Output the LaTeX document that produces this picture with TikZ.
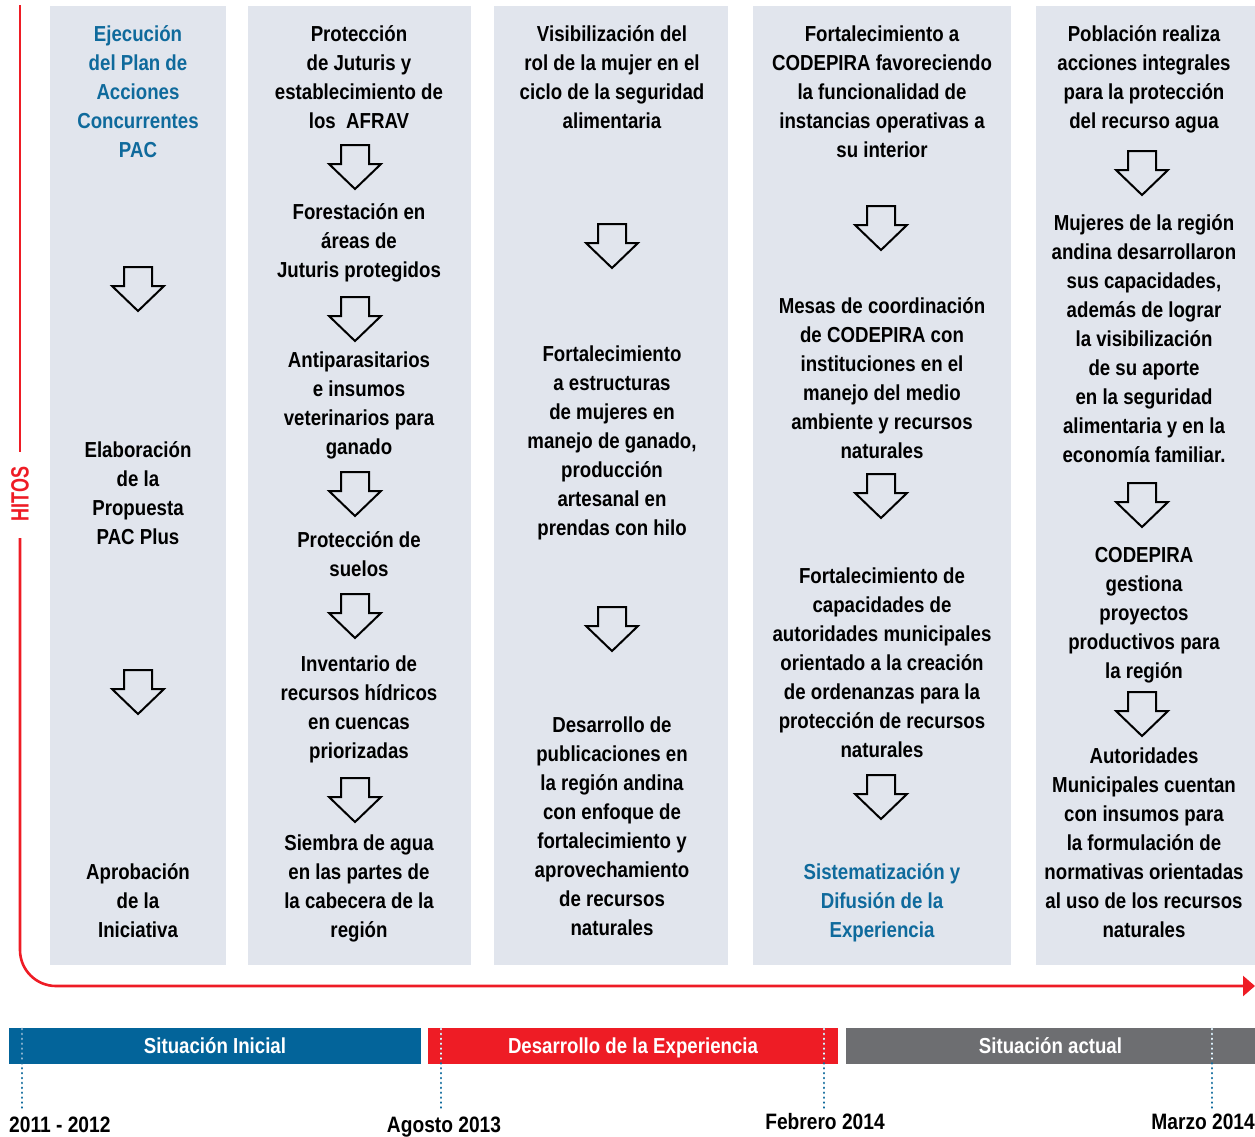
\documentclass[tikz,border=0pt]{standalone}
\usepackage{fontspec}
\setmainfont{Liberation Sans}[FakeStretch=0.86]
\newfontfamily\hitosfont{Liberation Sans}[FakeStretch=0.72]
\usetikzlibrary{arrows.meta}
\definecolor{colbg}{HTML}{E1E5ED}
\definecolor{ptblue}{HTML}{0F6A9C}
\definecolor{barblue}{HTML}{03649A}
\definecolor{barred}{HTML}{EE1C25}
\definecolor{bargray}{HTML}{6D6E71}
\definecolor{dotlight}{HTML}{8DB4D0}
\newcommand{\mystr}{\rule{0pt}{22pt}}
\tikzset{
  txt/.style={anchor=north, inner sep=0pt, align=center, text=black,
    font=\bfseries\fontsize{21.7}{29}\selectfont},
  bluetxt/.style={txt, text=ptblue},
  colbox/.style={fill=colbg, draw=none},
  tline/.style={draw=barred, line width=2.6pt},
  barbox/.style={draw=none, inner sep=0pt, minimum height=36pt, text=white,
    font=\bfseries\fontsize{21.7}{29}\selectfont, text height=15pt, text depth=0pt},
  datelbl/.style={inner sep=0pt, text=black,
    font=\bfseries\fontsize{22.3}{29}\selectfont, text height=15.5pt, text depth=0pt},
  dotline/.style={line width=2.7pt, line cap=round, dash pattern=on 0.1pt off 4.8pt},
  pics/downarr/.style={code={
    \draw[line width=2pt, fill=colbg, line join=miter]
      (-14,0) -- (14,0) -- (14,19) -- (26,19) -- (0,44) -- (-26,19) -- (-14,19) -- cycle;}}
}
\begin{document}
\begin{tikzpicture}[x=1pt, y=-1pt]
\useasboundingbox (0,0) rectangle (1255,1136);
% columns
\fill[colbox] (50,6) rectangle (226,965);
\fill[colbox] (248,6) rectangle (471,965);
\fill[colbox] (494,6) rectangle (728,965);
\fill[colbox] (753,6) rectangle (1011,965);
\fill[colbox] (1036,6) rectangle (1255,965);
% red timeline
\draw[tline] (20,5) -- (20,452);
\draw[tline, rounded corners=36pt, -{Triangle[length=12pt,width=20pt]}] (20,538) -- (20,986) -- (1255,986);
\node[text=barred, rotate=90, inner sep=0pt, font=\hitosfont\bfseries\fontsize{25}{25}\selectfont] (hitos) at (20,494) {HITOS};
% column 1
\node[bluetxt] (c1a) at (138,19.7) {\mystr Ejecución\\del Plan de\\Acciones\\Concurrentes\\PAC};
\pic at (138,267) {downarr};
\node[txt] (c1b) at (138,435.7) {\mystr Elaboración\\de la\\Propuesta\\PAC Plus};
\pic at (138,670) {downarr};
\node[txt] (c1c) at (138,857.7) {\mystr Aprobación\\de la\\Iniciativa};
% column 2
\node[txt] (c2a) at (359,19.7) {\mystr Protección\\de Juturis y\\establecimiento de\\los~ AFRAV};
\pic at (355,145) {downarr};
\node[txt] (c2b) at (359,197.7) {\mystr Forestación en\\áreas de\\Juturis protegidos};
\pic at (355,297) {downarr};
\node[txt] (c2c) at (359,345.7) {\mystr Antiparasitarios\\e insumos\\veterinarios para\\ganado};
\pic at (355,472) {downarr};
\node[txt] (c2d) at (359,525.7) {\mystr Protección de\\suelos};
\pic at (355,594) {downarr};
\node[txt] (c2e) at (359,649.7) {\mystr Inventario de\\recursos hídricos\\en cuencas\\priorizadas};
\pic at (355,778) {downarr};
\node[txt] (c2f) at (359,828.7) {\mystr Siembra de agua\\en las partes de\\la cabecera de la\\región};
% column 3
\node[txt] (c3a) at (612,19.7) {\mystr Visibilización del\\rol de la mujer en el\\ciclo de la seguridad\\alimentaria};
\pic at (612,224) {downarr};
\node[txt] (c3b) at (612,339.7) {\mystr Fortalecimiento\\a estructuras\\de mujeres en\\manejo de ganado,\\producción\\artesanal en\\prendas con hilo};
\pic at (612,607) {downarr};
\node[txt] (c3c) at (612,710.7) {\mystr Desarrollo de\\publicaciones en\\la región andina\\con enfoque de\\fortalecimiento y\\aprovechamiento\\de recursos\\naturales};
% column 4
\node[txt] (c4a) at (882,19.7) {\mystr Fortalecimiento a\\CODEPIRA favoreciendo\\la funcionalidad de\\instancias operativas a\\su interior};
\pic at (881,206) {downarr};
\node[txt] (c4b) at (882,291.7) {\mystr Mesas de coordinación\\de CODEPIRA con\\instituciones en el\\manejo del medio\\ambiente y recursos\\naturales};
\pic at (881,474) {downarr};
\node[txt] (c4c) at (882,561.7) {\mystr Fortalecimiento de\\capacidades de\\autoridades municipales\\orientado a la creación\\de ordenanzas para la\\protección de recursos\\naturales};
\pic at (881,775) {downarr};
\node[bluetxt] (c4d) at (882,857.7) {\mystr Sistematización y\\Difusión de la\\Experiencia};
% column 5
\node[txt] (c5a) at (1144,19.7) {\mystr Población realiza\\acciones integrales\\para la protección\\del recurso agua};
\pic at (1142,151) {downarr};
\node[txt] (c5b) at (1144,208.7) {\mystr Mujeres de la región\\andina desarrollaron\\sus capacidades,\\además de lograr\\la visibilización\\de su aporte\\en la seguridad\\alimentaria y en la\\economía familiar.};
\pic at (1142,483) {downarr};
\node[txt] (c5c) at (1144,540.7) {\mystr CODEPIRA\\gestiona\\proyectos\\productivos para\\la región};
\pic at (1142,692) {downarr};
\node[txt] (c5d) at (1144,741.7) {\mystr Autoridades\\Municipales cuentan\\con insumos para\\la formulación de\\normativas orientadas\\al uso de los recursos\\naturales};
% bars
\node[barbox, fill=barblue, minimum width=412pt] (b1) at (215,1046) {Situación Inicial};
\node[barbox, fill=barred, minimum width=410pt] (b2) at (633,1046) {Desarrollo de la Experiencia};
\node[barbox, fill=bargray, minimum width=409pt] (b3) at (1050.5,1046) {Situación actual};
% dotted markers
\draw[dotline, draw=ptblue] (22,1029) -- (22,1112);
\draw[dotline, draw=dotlight] (22,1029) -- (22,1063);
\draw[dotline, draw=ptblue] (441,1029) -- (441,1112);
\draw[dotline, draw=white] (441,1029) -- (441,1063);
\draw[dotline, draw=ptblue] (824,1029) -- (824,1112);
\draw[dotline, draw=white] (824,1029) -- (824,1063);
\draw[dotline, draw=ptblue] (1212,1029) -- (1212,1112);
\draw[dotline, draw=white] (1212,1029) -- (1212,1063);
% dates
\node[datelbl, anchor=west] (d1) at (9,1125) {2011 - 2012};
\node[datelbl] (d2) at (444,1125) {Agosto 2013};
\node[datelbl] (d3) at (825,1122) {Febrero 2014};
\node[datelbl, anchor=east] (d4) at (1255,1122) {Marzo 2014};
\end{tikzpicture}
\end{document}
